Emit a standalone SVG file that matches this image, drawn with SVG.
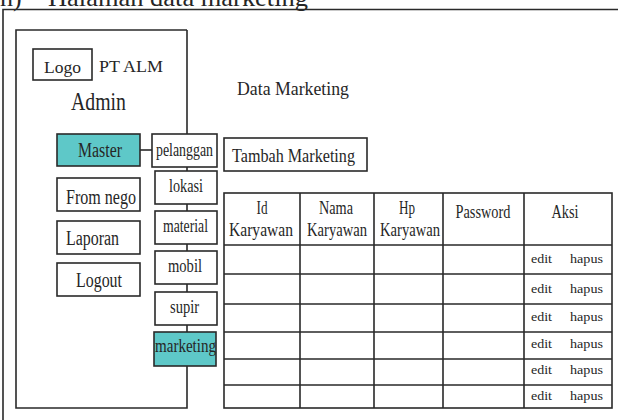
<svg xmlns="http://www.w3.org/2000/svg" width="618" height="420" viewBox="0 0 618 420">
<style>
.b{fill:#fff;stroke:#2a2a2a;stroke-width:1.6}
.t{fill:#5ec8c8;stroke:#2a2a2a;stroke-width:1.6}
.ln{fill:none;stroke:#2a2a2a;stroke-width:1.6}
text{font-family:"Liberation Serif","Times New Roman",serif;fill:#262626}
.m{font-size:20.5px}
.s{font-size:19.5px}
.h{font-size:19.5px;text-anchor:middle}
.e{font-size:13.5px}
</style>
<rect width="618" height="420" fill="#fff"/>
<g id="title">
<text x="0" y="6" font-size="26">h)</text>
<text x="48" y="6" font-size="26" textLength="260" lengthAdjust="spacingAndGlyphs">Halaman data marketing</text>
</g>
<g id="frame">
<path class="ln" d="M3,420 V9.5 H618"/>
</g>
<g id="connectors">
<path class="ln" d="M187,30 V408 H16 V30 H187"/>
<line class="ln" x1="140" y1="150" x2="152" y2="150"/>
</g>
<g id="logo"><rect class="b" x="33" y="49" width="59" height="31"/><text x="44" y="73" font-size="17.6" textLength="37" lengthAdjust="spacingAndGlyphs">Logo</text></g>
<g id="ptalm"><text x="99" y="72" font-size="17.6" textLength="64" lengthAdjust="spacingAndGlyphs">PT ALM</text></g>
<g id="admin"><text x="71" y="110" font-size="25.5" textLength="55" lengthAdjust="spacingAndGlyphs">Admin</text></g>
<g id="master"><rect class="t" x="57" y="134" width="83" height="32"/><text class="m" x="78" y="157" textLength="44" lengthAdjust="spacingAndGlyphs">Master</text></g>
<g id="fromnego"><rect class="b" x="57" y="178" width="83" height="33"/><text class="m" x="66" y="204" textLength="70" lengthAdjust="spacingAndGlyphs">From nego</text></g>
<g id="laporan"><rect class="b" x="57" y="221" width="83" height="33"/><text class="m" x="66" y="245" textLength="53" lengthAdjust="spacingAndGlyphs">Laporan</text></g>
<g id="logout"><rect class="b" x="57" y="263" width="83" height="33"/><text class="m" x="76" y="287" textLength="46" lengthAdjust="spacingAndGlyphs">Logout</text></g>
<g id="pelanggan"><rect class="b" x="152" y="134" width="65" height="33"/><text class="s" x="156" y="156" textLength="57" lengthAdjust="spacingAndGlyphs">pelanggan</text></g>
<g id="lokasi"><rect class="b" x="155" y="171" width="62" height="33"/><text class="s" x="169" y="192" textLength="34" lengthAdjust="spacingAndGlyphs">lokasi</text></g>
<g id="material"><rect class="b" x="155" y="211" width="62" height="33"/><text class="s" x="163" y="232" textLength="45" lengthAdjust="spacingAndGlyphs">material</text></g>
<g id="mobil"><rect class="b" x="155" y="251" width="62" height="33"/><text class="s" x="168" y="272" textLength="34" lengthAdjust="spacingAndGlyphs">mobil</text></g>
<g id="supir"><rect class="b" x="155" y="292" width="62" height="33"/><text class="s" x="170" y="313" textLength="29" lengthAdjust="spacingAndGlyphs">supir</text></g>
<g id="marketing"><rect class="t" x="154" y="332" width="62" height="34"/><text class="s" x="155" y="352" textLength="61" lengthAdjust="spacingAndGlyphs">marketing</text></g>
<g id="datamarketing"><text x="237" y="95" font-size="18" textLength="112" lengthAdjust="spacingAndGlyphs">Data Marketing</text></g>
<g id="tambah"><rect class="b" x="224" y="138" width="143" height="33"/><text x="232" y="162" font-size="19.5" textLength="123" lengthAdjust="spacingAndGlyphs">Tambah Marketing</text></g>
<g id="table">
<rect class="b" x="224" y="193" width="388" height="215"/>
<path class="ln" d="M300,193 V408 M374,193 V408 M443,193 V408 M524,193 V408 M224,245 H612 M224,274 H612 M224,304 H612 M224,332 H612 M224,359 H612 M224,385 H612"/>
<text class="h" x="262" y="214" textLength="11" lengthAdjust="spacingAndGlyphs">Id</text>
<text class="h" x="261" y="236" textLength="64" lengthAdjust="spacingAndGlyphs">Karyawan</text>
<text class="h" x="336" y="214" textLength="34" lengthAdjust="spacingAndGlyphs">Nama</text>
<text class="h" x="337" y="236" textLength="60" lengthAdjust="spacingAndGlyphs">Karyawan</text>
<text class="h" x="407" y="214" textLength="16" lengthAdjust="spacingAndGlyphs">Hp</text>
<text class="h" x="410" y="236" textLength="60" lengthAdjust="spacingAndGlyphs">Karyawan</text>
<text class="h" x="483" y="218" textLength="55" lengthAdjust="spacingAndGlyphs">Password</text>
<text class="h" x="565" y="218" textLength="27" lengthAdjust="spacingAndGlyphs">Aksi</text>
<g class="e">
<text x="531" y="263" textLength="21" lengthAdjust="spacingAndGlyphs">edit</text><text x="570" y="263" textLength="33" lengthAdjust="spacingAndGlyphs">hapus</text>
<text x="531" y="293" textLength="21" lengthAdjust="spacingAndGlyphs">edit</text><text x="570" y="293" textLength="33" lengthAdjust="spacingAndGlyphs">hapus</text>
<text x="531" y="321" textLength="21" lengthAdjust="spacingAndGlyphs">edit</text><text x="570" y="321" textLength="33" lengthAdjust="spacingAndGlyphs">hapus</text>
<text x="531" y="348" textLength="21" lengthAdjust="spacingAndGlyphs">edit</text><text x="570" y="348" textLength="33" lengthAdjust="spacingAndGlyphs">hapus</text>
<text x="531" y="374" textLength="21" lengthAdjust="spacingAndGlyphs">edit</text><text x="570" y="374" textLength="33" lengthAdjust="spacingAndGlyphs">hapus</text>
<text x="531" y="400" textLength="21" lengthAdjust="spacingAndGlyphs">edit</text><text x="570" y="400" textLength="33" lengthAdjust="spacingAndGlyphs">hapus</text>
</g>
</g>
</svg>
